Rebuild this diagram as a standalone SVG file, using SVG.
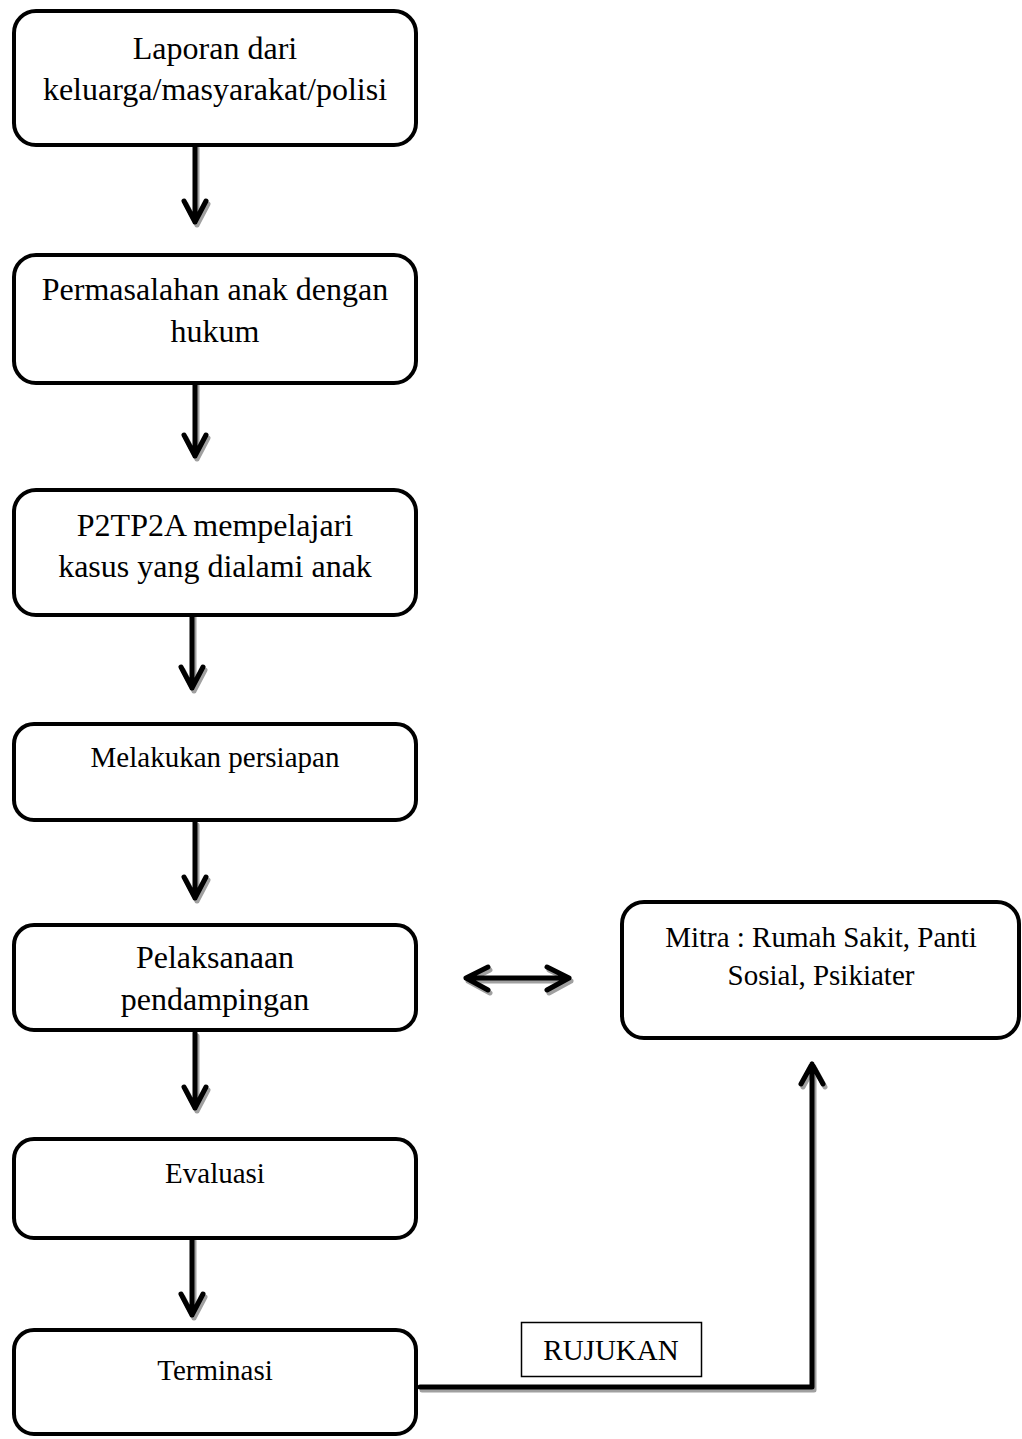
<svg xmlns="http://www.w3.org/2000/svg" width="1022" height="1439" viewBox="0 0 1022 1439">
<style>
.box{fill:#fff;stroke:#000;stroke-width:4}
.t{font-family:"Liberation Serif","Times New Roman",serif;font-size:32px;fill:#000;text-anchor:middle}
.s{font-size:29px}
.ln{fill:none;stroke:#000;stroke-width:5;stroke-linecap:round;stroke-linejoin:round}
.sh{fill:none;stroke:#a0a0a0;stroke-width:5;stroke-linecap:round;stroke-linejoin:round}
</style>
<rect width="1022" height="1439" fill="#fff"/>
<g id="connectors">
<g transform="translate(2,3)">
<path class="sh" d="M195 145V222M184 201L195 222L206 201"/>
<path class="sh" d="M195 380V456M184 435L195 456L206 435"/>
<path class="sh" d="M192 612V688M181 667L192 688L203 667"/>
<path class="sh" d="M195 822V898M184 877L195 898L206 877"/>
<path class="sh" d="M195 1033V1108M184 1087L195 1108L206 1087"/>
<path class="sh" d="M192 1238V1315M181 1294L192 1315L203 1294"/>
<path class="sh" d="M466 978H569M488 967L466 978L488 990M547 967L569 978L547 990"/>
<path class="sh" d="M420 1387H812V1064M801 1084L812 1064L823 1084"/>
</g>
<path class="ln" d="M195 145V222M184 201L195 222L206 201"/>
<path class="ln" d="M195 380V456M184 435L195 456L206 435"/>
<path class="ln" d="M192 612V688M181 667L192 688L203 667"/>
<path class="ln" d="M195 822V898M184 877L195 898L206 877"/>
<path class="ln" d="M195 1033V1108M184 1087L195 1108L206 1087"/>
<path class="ln" d="M192 1238V1315M181 1294L192 1315L203 1294"/>
<path class="ln" d="M466 978H569M488 967L466 978L488 990M547 967L569 978L547 990"/>
<path class="ln" d="M420 1387H812V1064M801 1084L812 1064L823 1084" stroke-linecap="butt"/>
</g>
<g id="n1"><rect class="box" x="14" y="11" width="402" height="134" rx="22"/>
<text class="t" x="215" y="59">Laporan dari</text><text class="t" x="215" y="100">keluarga/masyarakat/polisi</text></g>
<g id="n2"><rect class="box" x="14" y="255" width="402" height="128" rx="22"/>
<text class="t" x="215" y="300">Permasalahan anak dengan</text><text class="t" x="215" y="342">hukum</text></g>
<g id="n3"><rect class="box" x="14" y="490" width="402" height="125" rx="22"/>
<text class="t" x="215" y="536">P2TP2A mempelajari</text><text class="t" x="215" y="577">kasus yang dialami anak</text></g>
<g id="n4"><rect class="box" x="14" y="724" width="402" height="96" rx="20"/>
<text class="t s" x="215" y="767">Melakukan persiapan</text></g>
<g id="n5"><rect class="box" x="14" y="925" width="402" height="105" rx="20"/>
<text class="t" x="215" y="968">Pelaksanaan</text><text class="t" x="215" y="1010">pendampingan</text></g>
<g id="n6"><rect class="box" x="14" y="1139" width="402" height="99" rx="20"/>
<text class="t s" x="215" y="1183">Evaluasi</text></g>
<g id="n7"><rect class="box" x="14" y="1330" width="402" height="104" rx="20"/>
<text class="t s" x="215" y="1380">Terminasi</text></g>
<g id="n8"><rect class="box" x="622" y="902" width="397" height="136" rx="22"/>
<text class="t s" x="821" y="947">Mitra : Rumah Sakit, Panti</text><text class="t s" x="821" y="985">Sosial, Psikiater</text></g>
<g id="label-rujukan"><rect x="521.5" y="1322.5" width="180" height="54" fill="#fff" stroke="#000" stroke-width="1.5"/>
<text class="t s" x="611" y="1360">RUJUKAN</text></g>
</svg>
